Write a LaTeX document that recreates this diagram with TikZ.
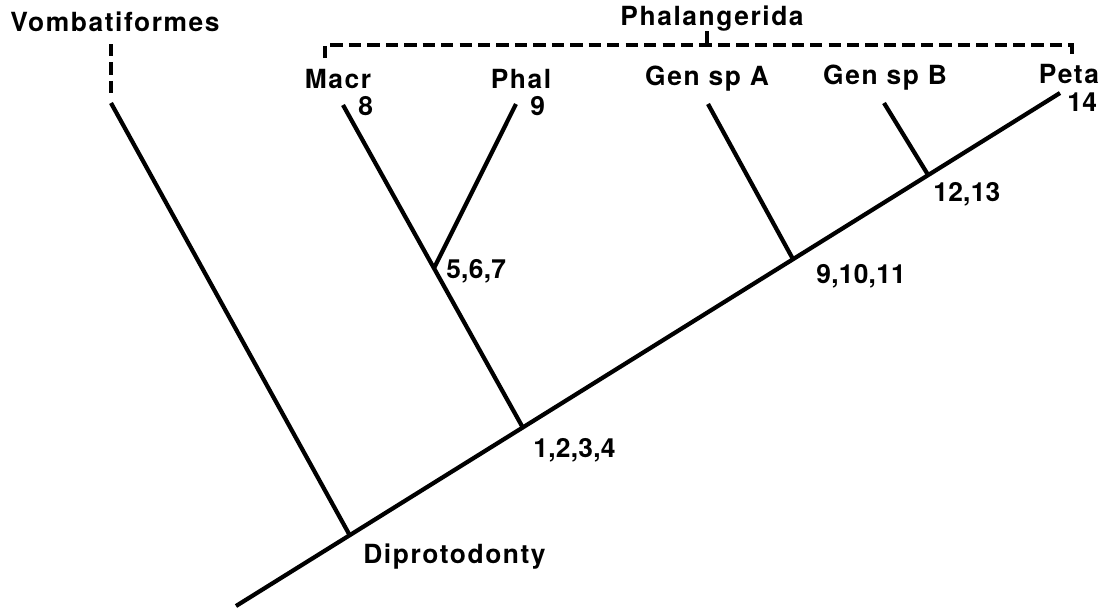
\documentclass[tikz,border=0pt]{standalone}
\usepackage{fontspec}
\usepackage{tikz}
\usetikzlibrary{positioning,calc}
\newfontfamily\taxfamily{TeX Gyre Heros}[LetterSpace=6]
\newfontfamily\chrfamily{TeX Gyre Heros}[LetterSpace=1]
\newcommand{\taxfont}{\taxfamily\bfseries\fontsize{15}{17}\selectfont}
\newcommand{\chrfont}{\chrfamily\bfseries\fontsize{15}{17}\selectfont}

\begin{document}
\begin{tikzpicture}[x=0.02cm, y=-0.02cm,
  every node/.style={font=\taxfont, inner sep=0pt},
  taxon/.style={anchor=base},
  chars/.style={anchor=base west, font=\chrfont},
  branch/.style={line width=2.4pt},
  grp/.style={line width=1.8pt, dash pattern=on 7pt off 3.5pt},
  tick/.style={line width=1.8pt}]

\useasboundingbox (0,0) rectangle (1111,613);

%% ── Stem and tips ────────────────────────────────────────────────
\coordinate (root)    at (236,606);
\coordinate (tipPeta) at (1060,93);
\coordinate (tipVomb) at (111,103);
\coordinate (tipMacr) at (343,105);
\coordinate (tipPhal) at (516,104);
\coordinate (tipGenA) at (708,104);
\coordinate (tipGenB) at (884,103);

%% ── Junctions on the stem ────────────────────────────────────────
\coordinate (jDipr) at ($(root)!0.138!(tipPeta)$);
\coordinate (jPhgr) at ($(root)!0.348!(tipPeta)$);
\coordinate (jGenA) at ($(root)!0.676!(tipPeta)$);
\coordinate (jGenB) at ($(root)!0.840!(tipPeta)$);
\coordinate (jMaPh) at ($(jPhgr)!0.494!(tipMacr)$);

%% ── Branches ─────────────────────────────────────────────────────
\draw[branch] (root)  -- (tipPeta);
\draw[branch] (jDipr) -- (tipVomb);
\draw[branch] (jPhgr) -- (tipMacr);
\draw[branch] (jMaPh) -- (tipPhal);
\draw[branch] (jGenA) -- (tipGenA);
\draw[branch] (jGenB) -- (tipGenB);

%% ── Taxon names ──────────────────────────────────────────────────
\node[taxon] (vomb)  at (115,31)  {Vombatiformes};
\node[taxon] (phgr)  at (712,25)  {Phalangerida};
\node[taxon] (macr)  at (338,88)  {Macr};
\node[taxon] (phal)  at (521,88)  {Phal};
\node[taxon] (genA)  at (707,85)  {Gen sp A};
\node[taxon] (genB)  at (885,84)  {Gen sp B};
\node[taxon] (peta)  at (1069,83) {Peta};

%% ── Characters ───────────────────────────────────────────────────
\node[chars] (c8)    at (358,115) {8};
\node[chars] (c9)    at (530,115) {9};
\node[chars] (c14)   at (1067,111){14};
\node[chars] (c567)  at (446,278) {5,6,7};
\node[chars] (c1234) at (533,457) {1,2,3,4};
\node[chars] (c9ten) at (816,283) {9,10,11};
\node[chars] (c1213) at (933,201) {12,13};
\node[taxon, anchor=base west] (dipr) at (363,563) {Diprotodonty};

%% ── Groups (dashed) ──────────────────────────────────────────────
\coordinate (vombTop) at (111,44);
\coordinate (brL)     at (325,58);
\coordinate (brR)     at (1072,55);
\coordinate (brMid)   at (707,45);
\draw[grp]  (vombTop) -- ($(tipVomb)+(0,-9)$);
\draw[grp]  (brL) |- (brMid) -| (brR);
\draw[tick] (brMid) -- (brMid |- phgr.south);
\end{tikzpicture}
\end{document}
